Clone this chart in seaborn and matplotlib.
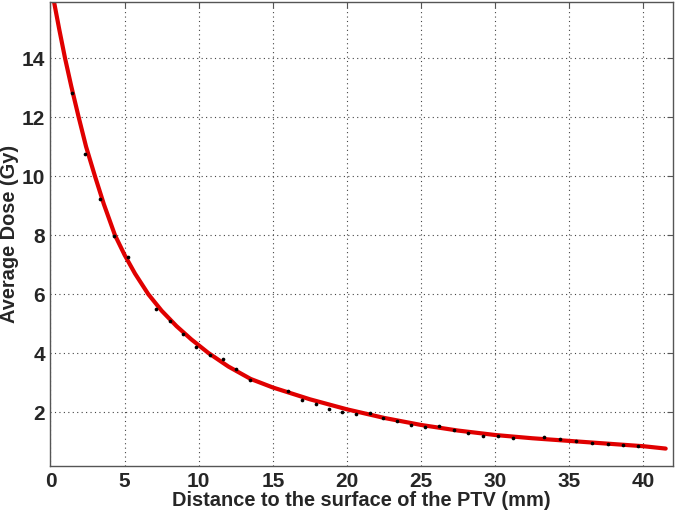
import matplotlib
matplotlib.use("Agg")
import matplotlib.pyplot as plt
import seaborn as sns
import pandas as pd

# ---------- data ----------
dist_pts = [1.46, 2.33, 3.34, 4.31, 5.25, 7.14, 8.09, 8.97, 9.80, 10.77, 11.63,
            12.52, 13.45, 16.02, 16.97, 17.88, 18.78, 19.69, 20.64, 21.54, 22.44,
            23.39, 24.34, 25.29, 26.20, 27.19, 28.19, 29.16, 30.16, 31.22, 33.32,
            34.34, 35.47, 36.51, 37.60, 38.64, 39.66]
dose_pts = [12.81, 10.76, 9.23, 7.98, 7.25, 5.50, 5.09, 4.64, 4.20, 3.94, 3.79,
            3.45, 3.09, 2.71, 2.40, 2.27, 2.12, 2.00, 1.93, 1.98, 1.82,
            1.69, 1.56, 1.50, 1.52, 1.41, 1.30, 1.21, 1.18, 1.13, 1.15,
            1.10, 1.03, 0.95, 0.93, 0.88, 0.86]

# fitted curve
fit_dist = [0.24, 0.6, 0.98, 1.4, 1.9, 2.4, 3.0, 3.6, 4.35, 5.0, 5.7, 6.6,
            7.5, 8.5, 9.5, 10.65, 12.0, 13.5, 15.0, 17.5, 20.0, 22.5, 25.0,
            27.5, 30.0, 32.5, 35.0, 37.5, 40.0, 41.5]
fit_dose = [15.9, 14.95, 14.0, 13.05, 12.0, 11.0, 10.0, 9.05, 8.0, 7.33, 6.7, 6.0,
            5.44, 4.92, 4.47, 4.01, 3.55, 3.13, 2.84, 2.44, 2.10, 1.81, 1.57,
            1.38, 1.23, 1.12, 1.03, 0.94, 0.85, 0.77]

x_ticks = [0, 5, 10, 15, 20, 25, 30, 35, 40]
y_ticks = [2, 4, 6, 8, 10, 12, 14]

pts = pd.DataFrame({"dist": dist_pts, "dose": dose_pts})
fit = pd.DataFrame({"dist": fit_dist, "dose": fit_dose})

# ---------- plot ----------
sns.set_style("white")
plt.rcParams["font.family"] = ["Liberation Sans", "DejaVu Sans"]

fig = plt.figure(figsize=(6.76, 5.14), dpi=100)
ax = fig.add_axes([0.0747, 0.0934, 0.921, 0.9026])

sns.lineplot(data=fit, x="dist", y="dose", sort=False, estimator=None,
             color="#e00000", linewidth=3.0, ax=ax, zorder=2)
sns.scatterplot(data=pts, x="dist", y="dose", color="black", s=7,
                linewidth=0, ax=ax, zorder=3)

ax.set_xlim(0, 42)
ax.set_ylim(0.18, 15.9)
ax.set_xticks(x_ticks)
ax.set_yticks(y_ticks)
ax.grid(True, linestyle=(0, (1, 3)), color="#444444", linewidth=0.8)
ax.tick_params(direction="in", length=4, color="#555555", top=True, right=True,
               labelsize=15, pad=4)
for lab in ax.get_xticklabels() + ax.get_yticklabels():
    lab.set_fontweight("bold")
for sp in ax.spines.values():
    sp.set_color("#555555")
    sp.set_linewidth(1.0)

ax.set_xlabel("Distance to the surface of the PTV (mm)", fontsize=14.4,
              fontweight="bold", labelpad=0)
ax.set_ylabel("Average Dose (Gy)", fontsize=14.4, fontweight="bold", labelpad=2)

fig.savefig("out.png", dpi=100)
